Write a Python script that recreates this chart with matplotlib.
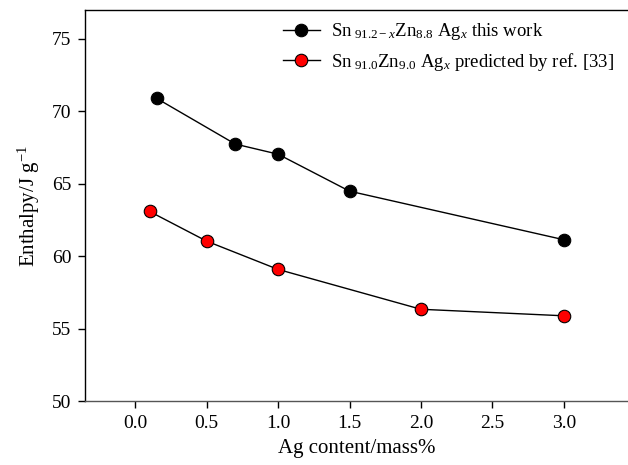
import matplotlib
matplotlib.use("Agg")
import matplotlib.pyplot as plt

# Sn91.2-x Zn8.8 Agx (this work)
ag_work = [0.15, 0.70, 1.00, 1.50, 3.00]
h_work = [70.9, 67.75, 67.05, 64.5, 61.15]
# Sn91.0 Zn9.0 Agx (ref. [33])
ag_ref = [0.10, 0.50, 1.00, 2.00, 3.00]
h_ref = [63.1, 61.05, 59.1, 56.35, 55.9]

xticks = [0.0, 0.5, 1.0, 1.5, 2.0, 2.5, 3.0]
yticks = [50, 55, 60, 65, 70, 75]

plt.rcParams["font.family"] = ["Liberation Serif", "DejaVu Serif"]
plt.rcParams["mathtext.fontset"] = "custom"
plt.rcParams["mathtext.rm"] = "Liberation Serif"
plt.rcParams["mathtext.it"] = "Liberation Serif:italic"

fig = plt.figure(figsize=(6.28, 4.65), dpi=100)
ax = fig.add_axes([0.1358, 0.137, 1.0 - 0.1358, 0.9785 - 0.137])

ax.plot(ag_work, h_work, "-o", color="black", lw=1.0, ms=9,
        mfc="black", mec="black", mew=0.8,
        label=r"Sn$_{\ 91.2-x}$Zn$_{8.8}$ Ag$_x$ this work")
ax.plot(ag_ref, h_ref, "-o", color="black", lw=1.0, ms=9,
        mfc="red", mec="black", mew=0.8,
        label=r"Sn$_{\ 91.0}$Zn$_{9.0}$ Ag$_x$ predicted by ref. [33]")

ax.set_xlim(-0.35, 3.45)
ax.set_ylim(50, 77)
ax.set_xticks(xticks)
ax.set_xticklabels(["%.1f" % t for t in xticks])
ax.set_yticks(yticks)
ax.tick_params(direction="out", length=5, width=1, labelsize=14, pad=5)

ax.spines["right"].set_visible(False)
ax.spines["bottom"].set_color("#555555")
for s in ["left", "top", "bottom"]:
    ax.spines[s].set_linewidth(1.0)

ax.set_xlabel("Ag content/mass%", fontsize=15, labelpad=5)
ax.set_ylabel(r"Enthalpy/J g$^{-1}$", fontsize=15, labelpad=7)

ax.legend(loc="upper left", bbox_to_anchor=(0.35, 0.99), frameon=False,
          fontsize=13.5, handlelength=2.0, handletextpad=0.6,
          labelspacing=0.45, borderaxespad=0)

fig.savefig("out.png", dpi=100)
